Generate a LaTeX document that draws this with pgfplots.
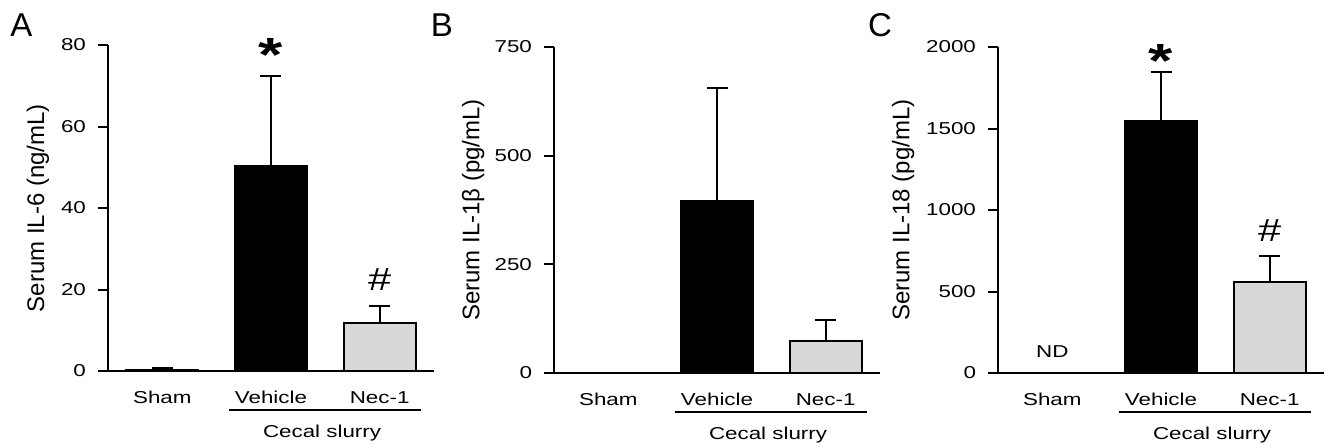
\documentclass[border=0pt]{standalone}
\usepackage{fontspec}
\setmainfont{Liberation Sans}
\newfontfamily\widefont[FakeStretch=1.3]{Liberation Sans}
\usepackage{pgfplots}
\pgfplotsset{compat=1.18}
\definecolor{necgray}{HTML}{D8D8D8}
\newcommand{\tickfont}{\widefont\fontsize{8.6}{10}\selectfont}
\pgfplotsset{
  panel/.style={
    scale only axis, width=163pt, height=163pt, anchor=south west,
    axis x line=bottom, axis y line=left,
    axis line style={line width=1pt, -},
    xmin=-0.5, xmax=2.5, ymin=0,
    xtick={0,1,2}, xticklabels={Sham,Vehicle,Nec-1},
    x tick style={draw=none},
    y tick style={line width=1pt, black},
    tick align=outside, major tick length=5pt,
    font=\tickfont,
    ticklabel style={font=\tickfont},
    /pgf/number format/assume math mode=true,
    /pgf/number format/1000 sep={},
    xticklabel style={anchor=base, yshift=-11pt},
    yticklabel style={xshift=-2.5pt},
    y label style={anchor=center, font=\fontsize{12}{14}\selectfont},
    ybar, bar width=0.66, bar shift=0pt,
    clip=false,
    every axis plot/.append style={line width=1pt, draw=black},
    error bars/y dir=plus, error bars/y explicit,
    error bars/error bar style={line width=1pt, black},
    error bars/error mark options={rotate=90, black, line width=1pt, mark size=5.25pt},
  },
}
\newcommand{\cecal}{%
  \draw[line width=0.7pt] ([yshift=-19.5pt]axis cs:0.61,0) -- ([yshift=-19.5pt]axis cs:2.38,0);
  \node[anchor=base] at ([yshift=-33pt]axis cs:1.47,0) {Cecal slurry};
}
\begin{document}
\begin{tikzpicture}
\useasboundingbox (0,0) rectangle (667pt,223.5pt);
\node[anchor=base, inner sep=0pt, font=\fontsize{16.5}{16.5}\selectfont] at (10.75pt,205.5pt) {A};
\node[anchor=base, inner sep=0pt, font=\fontsize{16.5}{16.5}\selectfont] at (221pt,205.5pt) {B};
\node[anchor=base, inner sep=0pt, font=\fontsize{16.5}{16.5}\selectfont] at (440pt,205.5pt) {C};

% A: IL-6
\begin{axis}[panel, at={(54pt,38pt)}, ymax=80, ytick={0,20,40,60,80},
  ylabel={Serum IL-6 (ng/mL)},
  y label style={at={(axis description cs:-0.215,0.5)}}]
\addplot[fill=black] coordinates {(0,0.3) +- (0,0.4)};
\addplot[fill=black] coordinates {(1,50.4) +- (0,22.0)};
\addplot[fill=necgray] coordinates {(2,11.7) +- (0,4.2)};
\node[anchor=base, inner sep=0pt, font=\widefont\bfseries\fontsize{24}{24}\selectfont] at (axis cs:1,73.6) {*};
\node[anchor=base, inner sep=0pt, font=\widefont\fontsize{16}{16}\selectfont] at (axis cs:2,19.8) {\#};
\cecal
\end{axis}

% B: IL-1beta
\begin{axis}[panel, at={(277pt,37pt)}, ymax=750, ytick={0,250,500,750},
  ylabel={Serum IL-1β (pg/mL)},
  y label style={at={(axis description cs:-0.248,0.5)}}]
\addplot[fill=black] coordinates {(0,1) +- (0,0)};
\addplot[fill=black] coordinates {(1,396) +- (0,260)};
\addplot[fill=necgray] coordinates {(2,74) +- (0,48)};
\cecal
\end{axis}

% C: IL-18
\begin{axis}[panel, at={(499pt,37pt)}, ymax=2000, ytick={0,500,1000,1500,2000},
  ylabel={Serum IL-18 (pg/mL)},
  y label style={at={(axis description cs:-0.291,0.5)}}]
\addplot[fill=black] coordinates {(1,1545) +- (0,304)};
\addplot[fill=necgray] coordinates {(2,561) +- (0,154)};
\node[anchor=base] at ([yshift=7.75pt]axis cs:0,0) {ND};
\node[anchor=base, inner sep=0pt, font=\widefont\bfseries\fontsize{24}{24}\selectfont] at (axis cs:1,1815) {*};
\node[anchor=base, inner sep=0pt, font=\widefont\fontsize{16}{16}\selectfont] at (axis cs:2,808) {\#};
\cecal
\end{axis}
\end{tikzpicture}
\end{document}
